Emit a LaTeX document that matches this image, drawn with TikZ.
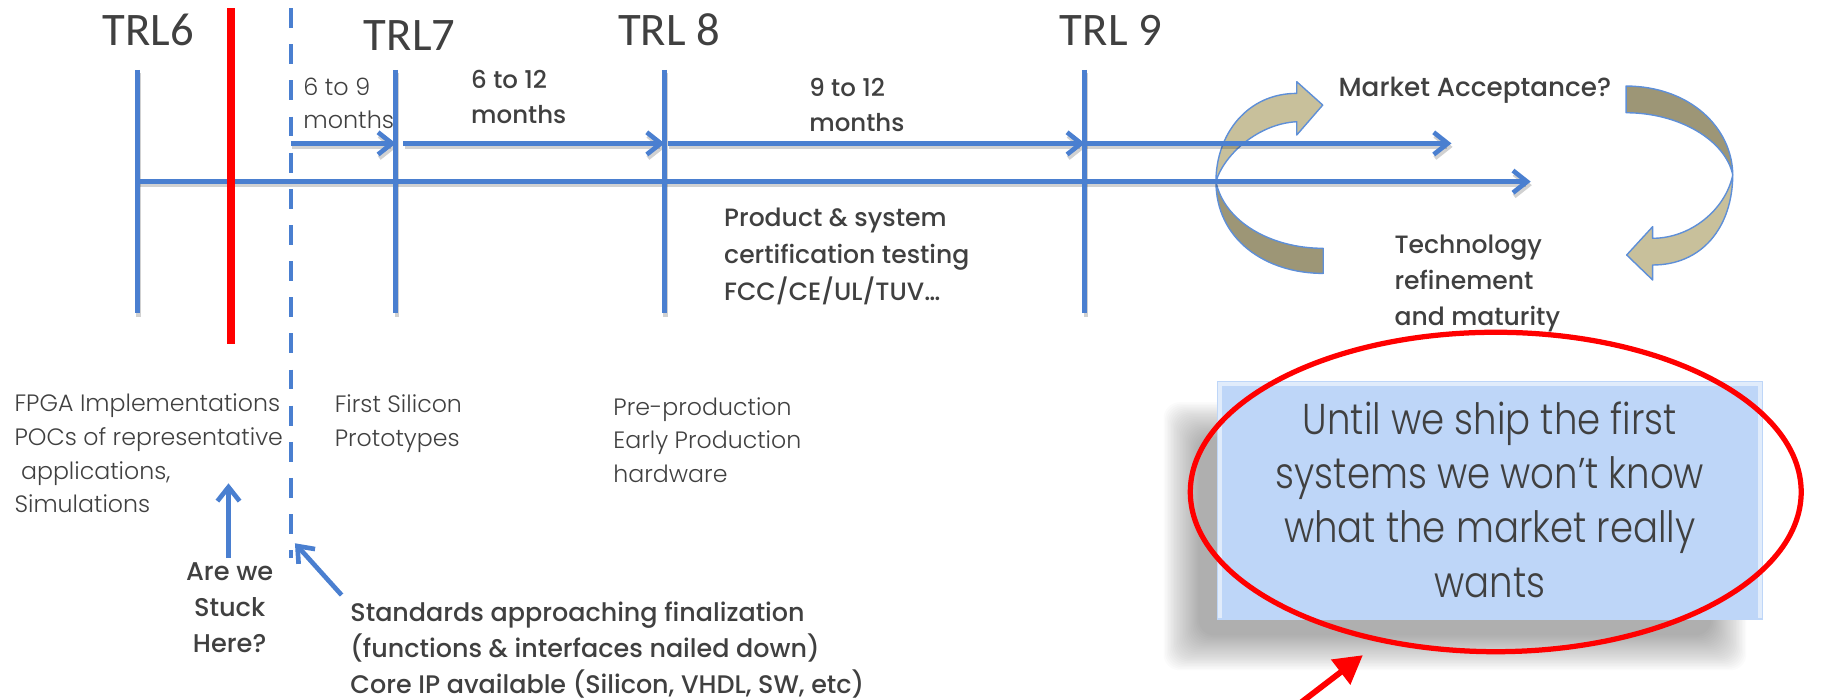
\documentclass[tikz,border=0pt]{standalone}
\usepackage{fontspec}
\usetikzlibrary{arrows.meta}
\IfFontExistsTF{Poppins Light}{\newfontfamily\thinf{Poppins Light}\newfontfamily\boxf[FakeStretch=0.86]{Poppins Light}}{\newfontfamily\thinf{Poppins}\newfontfamily\boxf[FakeStretch=0.86]{Poppins}}
\IfFontExistsTF{Poppins Medium}{\newfontfamily\medf{Poppins Medium}}{\newfontfamily\medf{Poppins}}
\newfontfamily\trlf{Carlito}
\definecolor{lineblue}{HTML}{4A7FD0}
\definecolor{edgeblue}{HTML}{5E8FD8}
\definecolor{txt}{HTML}{404040}
\definecolor{tanlight}{HTML}{C8C09B}
\definecolor{tandark}{HTML}{9D9676}
\definecolor{boxblue}{HTML}{BED6F8}
\begin{document}
\begin{tikzpicture}[x=1pt,y=-1pt,
  tl/.style={draw=lineblue, line width=4pt},
  tip/.style={-{Straight Barb[length=12pt,width=19pt]}},
  lbl/.style={inner sep=0pt, text=txt, align=left},
  thin/.style={lbl, font=\thinf\fontsize{20.3}{29}\selectfont},
  med/.style={lbl, font=\medf\fontsize{21}{30}\selectfont},
  trl/.style={inner sep=0pt, text=txt, font=\trlf\fontsize{40}{48}\selectfont, anchor=base west},
  tanedge/.style={draw=edgeblue, line width=1.2pt, line join=round}]
\useasboundingbox (0,0) rectangle (1568,600);

% ---- anchor points of the timeline ----
\coordinate (t6a) at (118,60);   \coordinate (t6b) at (118,268.6);
\coordinate (t7a) at (339.5,60); \coordinate (t7b) at (339.5,268.6);
\coordinate (t8a) at (570,60);   \coordinate (t8b) at (570,268.6);
\coordinate (t9a) at (930.5,60); \coordinate (t9b) at (930.5,268.6);
\coordinate (ax0) at (118,155.8); \coordinate (ax1) at (1313,155.8);
\coordinate (dsa) at (249.5,7);  \coordinate (dsb) at (249.5,479);
\coordinate (rda) at (198,7);    \coordinate (rdb) at (198,295);
\coordinate (u0) at (249.5,123); \coordinate (u1) at (339.5,123);
\coordinate (u2) at (346,123);   \coordinate (u3) at (570,123);
\coordinate (u4) at (573,123);   \coordinate (u5) at (930.5,123);
\coordinate (u6) at (1245,123);
\coordinate (stk0) at (196,478.8); \coordinate (stk1) at (196,414.6);
\coordinate (std0) at (293,510.4); \coordinate (std1) at (253,466);
\coordinate (rar0) at (1105,611); \coordinate (rar1) at (1169,562);

% ---- curved loop arrows ----
\fill[tandark] (1043,155.8) .. controls (1043,205) and (1085,234.5) .. (1135,234.5)
  -- (1135,213) .. controls (1090,213) and (1050,190) .. (1043,155.8) -- cycle;
\draw[tanedge] (1043,155.8) .. controls (1043,205) and (1085,234.5) .. (1135,234.5)
  -- (1135,213) .. controls (1090,213) and (1050,190) .. (1043,155.8);
\fill[tanlight] (1112.3,80.1) -- (1112.3,70.1) -- (1134.6,90.1) -- (1112.3,115.8) -- (1112.3,104.4)
  .. controls (1080,106) and (1050,132) .. (1043,155.8)
  .. controls (1043,115) and (1070,80) .. (1112.3,80.1) -- cycle;
\draw[tanedge] (1112.3,80.1) -- (1112.3,70.1) -- (1134.6,90.1) -- (1112.3,115.8) -- (1112.3,104.4)
  .. controls (1080,106) and (1050,132) .. (1043,155.8)
  .. controls (1043,115) and (1070,80) .. (1112.3,80.1) -- cycle;

\fill[tandark] (1394.8,73.8) .. controls (1450,74) and (1486,110) .. (1486.3,150.1)
  .. controls (1480,120) and (1440,96.7) .. (1394.8,96.7) -- cycle;
\draw[tanedge] (1394.8,73.8) .. controls (1450,74) and (1486,110) .. (1486.3,150.1)
  .. controls (1480,120) and (1440,96.7) .. (1394.8,96.7) -- cycle;
\fill[tanlight] (1486.3,150.1) .. controls (1486,195) and (1460,227.3) .. (1417.6,227.3)
  -- (1417.6,240.2) -- (1395.3,218.7) -- (1417.6,194.4) -- (1417.6,204.4)
  .. controls (1450,204.4) and (1480,180) .. (1486.3,150.1) -- cycle;
\draw[tanedge] (1486.3,150.1) .. controls (1486,195) and (1460,227.3) .. (1417.6,227.3)
  -- (1417.6,240.2) -- (1395.3,218.7) -- (1417.6,194.4) -- (1417.6,204.4)
  .. controls (1450,204.4) and (1480,180) .. (1486.3,150.1) -- cycle;

% ---- timeline: soft shadow first, then the lines ----
\begin{scope}[transform canvas={shift={(1,3)}}, tl/.style={draw=black, opacity=0.18, line width=4pt}]
  \draw[tl] (t6a) -- (t6b); \draw[tl] (t7a) -- (t7b);
  \draw[tl] (t8a) -- (t8b); \draw[tl] (t9a) -- (t9b);
  \draw[tl, tip] (ax0) -- (ax1);
  \draw[tl, tip] (u0) -- (u1); \draw[tl, tip] (u2) -- (u3);
  \draw[tl, tip] (u4) -- (u5); \draw[tl, tip] (u5) -- (u6);
\end{scope}
\draw[tl] (t6a) -- (t6b); \draw[tl] (t7a) -- (t7b);
\draw[tl] (t8a) -- (t8b); \draw[tl] (t9a) -- (t9b);
\draw[tl, tip] (ax0) -- (ax1);
\draw[tl, tip] (u0) -- (u1); \draw[tl, tip] (u2) -- (u3);
\draw[tl, tip] (u4) -- (u5); \draw[tl, tip] (u5) -- (u6);
\draw[tl, dash pattern=on 17pt off 14pt] (dsa) -- (dsb);
\draw[red, line width=6.5pt] (rda) -- (rdb);
\draw[tl, tip] (stk0) -- (stk1);
\draw[tl, tip] (std0) -- (std1);

% ---- TRL headings ----
\node[trl] (trl6) at (88,38.6) {TRL6};
\node[trl] (trl7) at (312,42.9) {TRL7};
\node[trl] (trl8) at (530,38.6) {TRL 8};
\node[trl] (trl9) at (909,38.6) {TRL 9};

% ---- durations (node base = last line) ----
\node[thin, anchor=base west, font=\thinf\fontsize{20.5}{28.5}\selectfont] (d1) at (260,110) {6 to 9\\months};
\node[med, anchor=base west] (d2) at (404,105.8) {6 to 12\\months};
\node[med, anchor=base west] (d3) at (694,113) {9 to 12\\months};

% ---- notes along the line ----
\node[med, anchor=base west, font=\medf\fontsize{21.5}{31.8}\selectfont] (cert) at (621,258)
  {Product \& system\\certification testing\\FCC/CE/UL/TUV…};
\node[med, anchor=base west, font=\medf\fontsize{22.5}{30}\selectfont] (mkt) at (1148,83) {Market Acceptance?};
\node[med, anchor=base west, font=\medf\fontsize{21.5}{30.8}\selectfont] (tech) at (1196,278.9)
  {Technology\\refinement\\and maturity};

% ---- stage descriptions ----
\node[thin, anchor=base west] (fpga) at (12.3,440)
  {FPGA Implementations\\POCs of representative\\\ applications,\\Simulations};
\node[thin, anchor=base west] (silicon) at (287,383) {First Silicon\\Prototypes};
\node[thin, anchor=base west] (preprod) at (526,414) {Pre-production\\Early Production\\hardware};
\node[med, anchor=base, align=center, font=\medf\fontsize{22}{31.3}\selectfont] (stuck) at (197,560.1)
  {Are we\\Stuck\\Here?};
\node[med, anchor=base west, font=\medf\fontsize{21.8}{30.8}\selectfont] (stds) at (300.4,594.6)
  {Standards approaching finalization\\(functions \& interfaces nailed down)\\Core IP available (Silicon, VHDL, SW, etc)};

% ---- call-out box with soft, blurred shadow ----
\foreach \k in {0,...,23}
  \fill[black, opacity=0.015, rounded corners=14pt] ({998+1.3*\k},{345+1.3*\k}) rectangle ({1498-1.3*\k},{575-1.3*\k});
\fill[boxblue] (1044,327) rectangle (1512,532);
\draw[white, opacity=0.55, line width=3pt] (1046.5,530) -- (1046.5,329.5) -- (1509.5,329.5) -- (1509.5,530);
\node[lbl, align=center, font=\boxf\fontsize{37}{46.7}\selectfont] (msg) at (1278,428.5)
  {Until we ship the first\\systems we won’t know\\what the market really\\wants};

% ---- red highlight ----
\draw[red, line width=4.5pt] (1283,422) ellipse [x radius=262, y radius=137];
\draw[red, line width=5pt, -{Triangle[length=24pt,width=26pt]}] (rar0) -- (rar1);
\end{tikzpicture}
\end{document}
